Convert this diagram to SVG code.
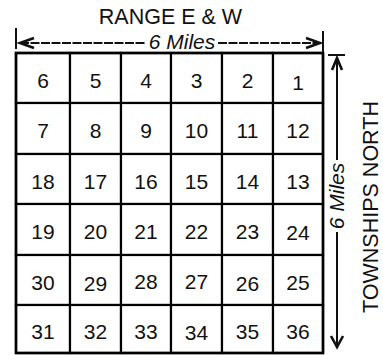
<svg xmlns="http://www.w3.org/2000/svg" width="383" height="355" viewBox="0 0 383 355">
<style>
.cell rect{fill:#fff;stroke:#000;stroke-width:2.2}
.cell text{font-family:"Liberation Sans",Arial,sans-serif;font-size:21px;text-anchor:middle;fill:#111}
.lbl{font-family:"Liberation Sans",Arial,sans-serif;fill:#111}
.ln{stroke:#111;stroke-width:2;fill:none}
.ah{stroke:#111;stroke-width:2.6;fill:none;stroke-linejoin:miter}
</style>
<rect width="383" height="355" fill="#fff"/>
<g id="labels">
<text class="lbl" x="170.5" y="24" font-size="21.5" text-anchor="middle">RANGE E &amp; W</text>
<text class="lbl" x="182" y="48.5" font-size="21" font-style="italic" text-anchor="middle">6 Miles</text>
<text class="lbl" transform="translate(344,196) rotate(-90)" font-size="21" font-style="italic" text-anchor="middle">6 Miles</text>
<text class="lbl" transform="translate(378,207) rotate(-90)" font-size="21.5" text-anchor="middle">TOWNSHIPS NORTH</text>
</g>
<g id="grid">
<g id="s6" class="cell"><rect x="16" y="53" width="54" height="50"/><text x="43" y="88">6</text></g>
<g id="s5" class="cell"><rect x="70" y="53" width="51" height="50"/><text x="95.5" y="88">5</text></g>
<g id="s4" class="cell"><rect x="121" y="53" width="50" height="50"/><text x="146" y="88">4</text></g>
<g id="s3" class="cell"><rect x="171" y="53" width="51" height="50"/><text x="196.5" y="88">3</text></g>
<g id="s2" class="cell"><rect x="222" y="53" width="51" height="50"/><text x="247.5" y="88">2</text></g>
<g id="s1" class="cell"><rect x="273" y="53" width="50" height="50"/><text x="298" y="90">1</text></g>
<g id="s7" class="cell"><rect x="16" y="103" width="54" height="51"/><text x="43" y="138">7</text></g>
<g id="s8" class="cell"><rect x="70" y="103" width="51" height="51"/><text x="95.5" y="138">8</text></g>
<g id="s9" class="cell"><rect x="121" y="103" width="50" height="51"/><text x="146" y="138">9</text></g>
<g id="s10" class="cell"><rect x="171" y="103" width="51" height="51"/><text x="196.5" y="138">10</text></g>
<g id="s11" class="cell"><rect x="222" y="103" width="51" height="51"/><text x="247.5" y="138">11</text></g>
<g id="s12" class="cell"><rect x="273" y="103" width="50" height="51"/><text x="298" y="138">12</text></g>
<g id="s18" class="cell"><rect x="16" y="154" width="54" height="50"/><text x="43" y="189">18</text></g>
<g id="s17" class="cell"><rect x="70" y="154" width="51" height="50"/><text x="95.5" y="189">17</text></g>
<g id="s16" class="cell"><rect x="121" y="154" width="50" height="50"/><text x="146" y="189">16</text></g>
<g id="s15" class="cell"><rect x="171" y="154" width="51" height="50"/><text x="196.5" y="189">15</text></g>
<g id="s14" class="cell"><rect x="222" y="154" width="51" height="50"/><text x="247.5" y="189">14</text></g>
<g id="s13" class="cell"><rect x="273" y="154" width="50" height="50"/><text x="298" y="189">13</text></g>
<g id="s19" class="cell"><rect x="16" y="204" width="54" height="51"/><text x="43" y="239">19</text></g>
<g id="s20" class="cell"><rect x="70" y="204" width="51" height="51"/><text x="95.5" y="239">20</text></g>
<g id="s21" class="cell"><rect x="121" y="204" width="50" height="51"/><text x="146" y="239">21</text></g>
<g id="s22" class="cell"><rect x="171" y="204" width="51" height="51"/><text x="196.5" y="239">22</text></g>
<g id="s23" class="cell"><rect x="222" y="204" width="51" height="51"/><text x="247.5" y="239">23</text></g>
<g id="s24" class="cell"><rect x="273" y="204" width="50" height="51"/><text x="298" y="240">24</text></g>
<g id="s30" class="cell"><rect x="16" y="255" width="54" height="50"/><text x="43" y="290">30</text></g>
<g id="s29" class="cell"><rect x="70" y="255" width="51" height="50"/><text x="95.5" y="291">29</text></g>
<g id="s28" class="cell"><rect x="121" y="255" width="50" height="50"/><text x="146" y="289">28</text></g>
<g id="s27" class="cell"><rect x="171" y="255" width="51" height="50"/><text x="196.5" y="289">27</text></g>
<g id="s26" class="cell"><rect x="222" y="255" width="51" height="50"/><text x="247.5" y="291">26</text></g>
<g id="s25" class="cell"><rect x="273" y="255" width="50" height="50"/><text x="298" y="290">25</text></g>
<g id="s31" class="cell"><rect x="16" y="305" width="54" height="48"/><text x="43" y="339">31</text></g>
<g id="s32" class="cell"><rect x="70" y="305" width="51" height="48"/><text x="95.5" y="339">32</text></g>
<g id="s33" class="cell"><rect x="121" y="305" width="50" height="48"/><text x="146" y="339">33</text></g>
<g id="s34" class="cell"><rect x="171" y="305" width="51" height="48"/><text x="196.5" y="340">34</text></g>
<g id="s35" class="cell"><rect x="222" y="305" width="51" height="48"/><text x="247.5" y="339">35</text></g>
<g id="s36" class="cell"><rect x="273" y="305" width="50" height="48"/><text x="298" y="339">36</text></g>
<rect x="16" y="53" width="307" height="300" fill="none" stroke="#000" stroke-width="2.6"/>
</g>
<g id="connectors">
<line class="ln" x1="16" y1="28" x2="16" y2="49"/>
<line class="ln" x1="323" y1="31" x2="323" y2="53"/>
<line class="ln" x1="20" y1="43" x2="146" y2="43" stroke-dasharray="9 1.5"/>
<line class="ln" x1="218" y1="43" x2="320" y2="43" stroke-dasharray="9 1.5"/>
<polyline class="ah" points="34,38 20,43 34,48"/>
<polyline class="ah" points="306,38 320,43 306,48"/>
<line class="ln" x1="328" y1="55" x2="345" y2="55"/>
<line class="ln" x1="337" y1="58" x2="337" y2="160"/>
<line class="ln" x1="337" y1="232" x2="337" y2="347"/>
<polyline class="ah" points="332,70 337,58 342,70"/>
<polyline class="ah" points="331,336 337,347 343,336"/>
</g>
</svg>
